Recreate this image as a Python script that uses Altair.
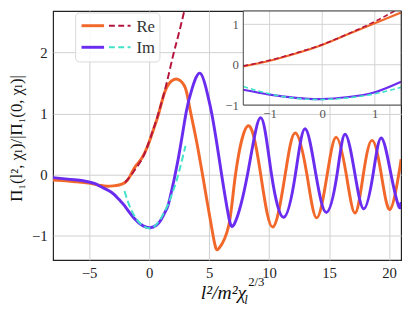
import altair as alt
import pandas as pd

# ---------------- data ----------------
# main panel: Re (solid orange)
re_x = [-8, -7, -6, -5, -4.5, -4, -3.5, -3, -2.5, -2, -1.6, -1.15, -0.6, 0, 0.4, 0.8, 1.3, 1.85,
        2.4, 3.0, 3.36, 3.9, 4.45, 5.33, 5.82, 6.64, 7.2, 8.25, 9.3, 10.3, 11.34, 12.19, 13.15,
        13.97, 14.84, 15.6, 16.43, 17.16, 17.85, 18.58, 19.35, 20.08, 20.8, 21]
re_y = [-0.09, -0.1, -0.12, -0.14, -0.16, -0.18, -0.19, -0.185, -0.17, -0.13, -0.03, 0.13, 0.27,
        0.53, 0.76, 1.0, 1.35, 1.53, 1.56, 1.43, 1.12, 0.6, 0.0, -1.0, -1.21, -0.83, 0.0, 0.8,
        0.0, -0.86, 0.0, 0.68, 0.0, -0.71, 0.0, 0.61, 0.0, -0.63, 0.0, 0.56, 0.0, -0.57, 0.0, 0.25]
# main panel: Im (solid purple)
im_x = [-8, -7, -6, -5.3, -4.5, -4, -3.14, -2.5, -2.05, -1.23, -0.5, 0.1, 0.6, 1.0, 1.45, 1.72,
        2.41, 3.09, 3.6, 4.26, 4.85, 5.22, 5.65, 6.04, 6.6, 7.13, 8.2, 9.29, 10.2, 11.23, 12.19,
        13.0, 13.9, 14.78, 15.66, 16.34, 17.16, 17.9, 18.66, 19.35, 20.16, 20.8, 21]
im_y = [-0.05, -0.07, -0.09, -0.11, -0.15, -0.2, -0.29, -0.41, -0.51, -0.72, -0.84, -0.87, -0.83,
        -0.74, -0.57, -0.4, 0.24, 1.02, 1.42, 1.66, 1.33, 1.0, 0.5, 0.0, -0.66, -0.8, 0.0, 0.93,
        0.0, -0.7, 0.0, 0.75, 0.0, -0.62, 0.0, 0.66, 0.0, -0.56, 0.0, 0.6, 0.0, -0.52, -0.45]
# main panel: Re asymptote (dashed crimson)
re_asy_x = [-2.0, -1.5, -1.0, -0.5, 0, 0.4, 0.8, 1.4, 2.0, 2.5, 3.0]
re_asy_y = [-0.13, -0.01, 0.13, 0.29, 0.54, 0.77, 1.02, 1.45, 1.95, 2.33, 2.74]
# main panel: Im asymptote (dashed turquoise)
im_asy_x = [-2.05, -1.64, -1.09, -0.5, 0, 0.5, 1.0, 1.5, 2.0, 2.5, 3.03]
im_asy_y = [-0.27, -0.51, -0.72, -0.84, -0.88, -0.84, -0.71, -0.52, -0.27, 0.05, 0.47]

# inset panel
in_x = [-1.5, -1.0, -0.5, 0.0, 0.5, 1.0, 1.5]
in_re = [-0.04, 0.1, 0.28, 0.49, 0.76, 1.03, 1.29]
in_re_asy = [-0.03, 0.11, 0.29, 0.5, 0.77, 1.07, 1.42]
in_im = [-0.62, -0.74, -0.82, -0.85, -0.80, -0.68, -0.42]
in_im_asy = [-0.54, -0.72, -0.83, -0.86, -0.82, -0.72, -0.56]

main_xticks = [-5, 0, 5, 10, 15, 20]
main_yticks = [-1, 0, 1, 2]
inset_xticks = [-1, 0, 1]
inset_yticks = [-1, 0, 1]
legend_labels = ["Re", "Im"]

# ---------------- styling ----------------
FONT = "'Liberation Serif', 'DejaVu Serif', serif"
ORANGE = "#F2682A"
PURPLE = "#6A2DF0"
CRIMSON = "#B5143C"
TURQ = "#40E3C8"
W, H = 355, 254
X_DOM, Y_DOM = [-8, 21], [-1.4, 2.68]
IX_DOM, IY_DOM = [-1.5, 1.5], [-1, 1.33]
IX_RANGE, IY_RANGE = [194, 355], [96, 0]

mx_scale = alt.Scale(domain=X_DOM, nice=False, zero=False)
my_scale = alt.Scale(domain=Y_DOM, nice=False, zero=False)
mx_axis = alt.Axis(values=main_xticks, title=None, grid=True, gridColor="#cfcfcf", gridWidth=1,
                   ticks=False, domain=False, labelFont=FONT, labelFontSize=15, format="d",
                   labelColor="#222", labelPadding=6)
my_axis = alt.Axis(values=main_yticks, title=None, grid=True, gridColor="#cfcfcf", gridWidth=1,
                   ticks=False, domain=False, labelFont=FONT, labelFontSize=15, format="d",
                   labelColor="#222", labelPadding=6)

ix_scale = alt.Scale(domain=IX_DOM, range=IX_RANGE, nice=False, zero=False)
iy_scale = alt.Scale(domain=IY_DOM, range=IY_RANGE, nice=False, zero=False)
ix_axis = alt.Axis(values=inset_xticks, title=None, orient="bottom", offset=-(H - IY_RANGE[0]),
                   grid=False, ticks=False, domain=False, labelFont=FONT, labelFontSize=13,
                   format="d", labelColor="#555", labelPadding=3)
iy_axis = alt.Axis(values=inset_yticks, title=None, orient="left", offset=-IX_RANGE[0],
                   grid=False, ticks=False, domain=False, labelFont=FONT, labelFontSize=13,
                   format="d", labelColor="#555", labelPadding=5)


def main_line(xs, ys, color, width, dash=None):
    df = pd.DataFrame({"x": xs, "y": ys})
    kw = dict(color=color, strokeWidth=width, interpolate="natural", clip=True)
    if dash:
        kw["strokeDash"] = dash
    return alt.Chart(df).mark_line(**kw).encode(
        x=alt.X("x:Q", scale=mx_scale, axis=mx_axis),
        y=alt.Y("y:Q", scale=my_scale, axis=my_axis),
        order="x:Q",
    )


def inset_line(ys, color, width, dash=None):
    df = pd.DataFrame({"x": in_x, "y": ys})
    kw = dict(color=color, strokeWidth=width, interpolate="natural", clip=True)
    if dash:
        kw["strokeDash"] = dash
    return alt.Chart(df).mark_line(**kw).encode(
        x=alt.X("x:Q", scale=ix_scale, axis=ix_axis),
        y=alt.Y("y:Q", scale=iy_scale, axis=iy_axis),
        order="x:Q",
    )


one = pd.DataFrame({"a": [0]})

# legend box (decoration)
leg_box = alt.Chart(one).mark_rect(fill="white", fillOpacity=0.85, stroke="#d8d8d8",
                                   strokeWidth=1, cornerRadius=4).encode(
    x=alt.value(23), x2=alt.value(109), y=alt.value(2), y2=alt.value(52))
leg_items = []
for i, (lab, c1, c2) in enumerate(zip(legend_labels, [ORANGE, PURPLE], [CRIMSON, TURQ])):
    yy = 15 + 22 * i
    leg_items.append(alt.Chart(one).mark_rule(color=c1, strokeWidth=3).encode(
        x=alt.value(29), x2=alt.value(52), y=alt.value(yy)))
    leg_items.append(alt.Chart(one).mark_rule(color=c2, strokeWidth=2, strokeDash=[6, 3.5]).encode(
        x=alt.value(57), x2=alt.value(79), y=alt.value(yy)))
    leg_items.append(alt.Chart(one).mark_text(align="left", baseline="middle", font=FONT,
                                              fontSize=17, color="#333").encode(
        x=alt.value(85), y=alt.value(yy + 1), text=alt.value(lab)))

# axis titles built from text marks
ytitle = alt.Chart(one).mark_text(angle=270, align="center", baseline="middle", font=FONT,
                                  fontSize=17, color="#111").encode(
    x=alt.value(-37), y=alt.value(130), text=alt.value("Π₁(l², χₗ)/|Π₁(0, χₗ)|"))
xt_main = alt.Chart(one).mark_text(align="right", baseline="alphabetic", font=FONT, fontSize=20,
                                   fontStyle="italic", color="#111").encode(
    x=alt.value(197), y=alt.value(294), text=alt.value("l²/m²χ"))
xt_sup = alt.Chart(one).mark_text(align="left", baseline="alphabetic", font=FONT, fontSize=13,
                                  color="#111").encode(
    x=alt.value(199), y=alt.value(280), text=alt.value("2/3"))
xt_sub = alt.Chart(one).mark_text(align="left", baseline="alphabetic", font=FONT, fontSize=13,
                                  fontStyle="italic", color="#111").encode(
    x=alt.value(195), y=alt.value(299), text=alt.value("l"))

main_layer = alt.layer(
    main_line(re_x, re_y, ORANGE, 3),
    main_line(im_x, im_y, PURPLE, 3),
    main_line(re_asy_x, re_asy_y, CRIMSON, 2, [7, 3.5]),
    main_line(im_asy_x, im_asy_y, TURQ, 2, [7, 3.5]),
    leg_box, *leg_items, ytitle, xt_main, xt_sup, xt_sub,
)

# inset
inset_bg = alt.Chart(one).mark_rect(fill="white").encode(
    x=alt.datum(IX_DOM[0], scale=ix_scale), x2=alt.datum(IX_DOM[1]),
    y=alt.datum(IY_DOM[0], scale=iy_scale), y2=alt.datum(IY_DOM[1]))
inset_vgrid = alt.Chart(pd.DataFrame({"t": inset_xticks})).mark_rule(
    color="#d2d2d2", strokeWidth=1).encode(
    x=alt.X("t:Q", scale=ix_scale, axis=ix_axis),
    y=alt.datum(IY_DOM[0]), y2=alt.datum(IY_DOM[1]))
inset_hgrid = alt.Chart(pd.DataFrame({"t": inset_yticks})).mark_rule(
    color="#d2d2d2", strokeWidth=1).encode(
    y=alt.Y("t:Q", scale=iy_scale, axis=iy_axis),
    x=alt.datum(IX_DOM[0]), x2=alt.datum(IX_DOM[1]))
inset_frame = alt.Chart(one).mark_rect(filled=False, stroke="#444", strokeWidth=1).encode(
    x=alt.datum(IX_DOM[0]), x2=alt.datum(IX_DOM[1]),
    y=alt.datum(IY_DOM[0]), y2=alt.datum(IY_DOM[1]))

inset_layer = alt.layer(
    inset_bg, inset_vgrid, inset_hgrid,
    inset_line(in_re, ORANGE, 2.2),
    inset_line(in_im, PURPLE, 2.2),
    inset_line(in_re_asy, CRIMSON, 1.6, [5, 3]),
    inset_line(in_im_asy, TURQ, 1.6, [5, 3]),
    inset_frame,
)

chart = alt.layer(main_layer, inset_layer).resolve_scale(
    x="independent", y="independent"
).properties(
    width=W, height=H,
    autosize=alt.AutoSizeParams(type="none"),
    padding={"left": 46, "top": 0, "right": 6, "bottom": 52},
).configure_view(stroke="#222", strokeWidth=1.2)

chart.save("out.html", embed_options={"renderer": "svg", "actions": False})
